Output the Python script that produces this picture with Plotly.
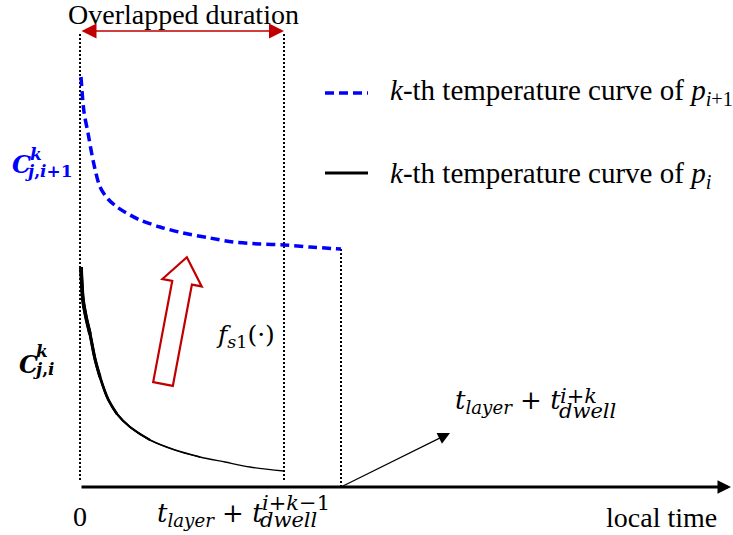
import plotly.graph_objects as go

# ---- data (diagram units: time along x, temperature along y) ----
t_next = [1, 4, 8, 13, 20, 28, 37, 50, 60, 80, 103, 130, 153, 180, 204, 230, 261]
T_next = [410, 375, 354, 327, 300, 288, 280, 272, 267, 260, 254, 249, 245, 243, 242, 240, 238]
t_cur = [1, 3, 6, 10, 15, 20, 28, 37, 50, 70, 95, 120, 145, 170, 204]
T_cur = [220, 187, 170, 153, 128, 110, 88, 73, 60, 47, 37, 30, 25, 20, 16]
t_overlap_end = 204
t_dwell_end = 261
t_axis_end = 651

SERIF = "Liberation Serif"
MATH = "DejaVu Serif"
BLUE = "#0000FF"
RED = "#C00000"

fig = go.Figure()

# vertical dotted guides
def vline(x, y0, y1):
    fig.add_trace(go.Scatter(x=[x, x], y=[y0, y1], mode="lines",
                             line=dict(color="black", width=2, dash="2px,2px"),
                             hoverinfo="skip", showlegend=False))

vline(0, 7, 454)
vline(t_overlap_end, 7, 454)
vline(t_dwell_end, 0, T_next[-1])

# blue dashed curve
fig.add_trace(go.Scatter(x=t_next, y=T_next, mode="lines",
                         line=dict(color=BLUE, width=3.5, dash="9px,5px", shape="spline", smoothing=0.8),
                         hoverinfo="skip", showlegend=False))

# black curve: thin full curve plus progressively thicker overlays near the start
fig.add_trace(go.Scatter(x=t_cur, y=T_cur, mode="lines",
                         line=dict(color="black", width=1.3, shape="spline", smoothing=0.8),
                         hoverinfo="skip", showlegend=False))
for b, w in [(12, 1.7), (10, 2.2), (8, 2.7), (6, 3.2), (4, 3.7)]:
    fig.add_trace(go.Scatter(x=t_cur[:b], y=T_cur[:b], mode="lines",
                             line=dict(color="black", width=w, shape="spline", smoothing=0.8),
                             hoverinfo="skip", showlegend=False))

# legend glyphs
fig.add_trace(go.Scatter(x=[245, 288], y=[394, 394], mode="lines",
                         line=dict(color=BLUE, width=3.5, dash="9px,5px"),
                         hoverinfo="skip", showlegend=False))
fig.add_trace(go.Scatter(x=[245, 288], y=[314, 314], mode="lines",
                         line=dict(color="black", width=3),
                         hoverinfo="skip", showlegend=False))

# hollow red arrow (shape path)
bx, by = 83, 103
ux, uy = 0.185, 0.983
nx, ny = 0.983, -0.185
Ls, Lh, ws, wh = 103, 26, 10, 20
hx, hy = bx + Ls * ux, by + Ls * uy
pts = [
    (bx - ws * nx, by - ws * ny),
    (hx - ws * nx, hy - ws * ny),
    (hx - wh * nx, hy - wh * ny),
    (bx + (Ls + Lh) * ux, by + (Ls + Lh) * uy),
    (hx + wh * nx, hy + wh * ny),
    (hx + ws * nx, hy + ws * ny),
    (bx + ws * nx, by + ws * ny),
]
path = "M " + " L ".join(f"{px:.2f},{py:.2f}" for px, py in pts) + " Z"
fig.add_shape(type="path", path=path, xref="x", yref="y",
              line=dict(color=RED, width=2.2), fillcolor="white")

ann = []
# x axis arrow
ann.append(dict(x=t_axis_end, y=0, ax=0, ay=0, xref="x", yref="y", axref="x", ayref="y",
                text="", showarrow=True, arrowhead=2, arrowsize=0.9, arrowwidth=3, arrowcolor="black"))
# overlapped duration double arrow
ann.append(dict(x=t_overlap_end, y=456, ax=0, ay=456, xref="x", yref="y", axref="x", ayref="y",
                text="", showarrow=True, arrowhead=2, arrowsize=2, arrowwidth=1.5,
                startarrowhead=2, startarrowsize=2, arrowside="end+start", arrowcolor=RED))
# slanted arrow
ann.append(dict(x=370, y=54, ax=t_dwell_end, ay=0, xref="x", yref="y", axref="x", ayref="y",
                text="", showarrow=True, arrowhead=2, arrowsize=2, arrowwidth=1.2, arrowcolor="black"))

def txt(x, y, s, size, color="black", xanchor="center", family=SERIF):
    ann.append(dict(x=x, y=y, xref="x", yref="y", text=s, showarrow=False,
                    xanchor=xanchor, yanchor="middle",
                    font=dict(family=family, size=size, color=color)))

txt(103, 473, "Overlapped duration", 28)
txt(308, 395, "<i>k</i>-th temperature curve of <i>p</i><sub><i>i</i>+1</sub>", 29, xanchor="left")
txt(308, 312, "<i>k</i>-th temperature curve of <i>p</i><sub><i>i</i></sub>", 29, xanchor="left")

# C labels
txt(-59, 323, "<b><i>C</i></b>", 24, BLUE, family=MATH)
txt(-44, 333, "<b><i>k</i></b>", 17, BLUE, family=MATH)
txt(-31, 316, "<b><i>j</i>,<i>i</i>+1</b>", 17, BLUE, family=MATH)
txt(-52, 123, "<b><i>C</i></b>", 24, family=MATH)
txt(-38, 136, "<b><i>k</i></b>", 17, family=MATH)
txt(-36, 118, "<b><i>j</i>,<i>i</i></b>", 17, family=MATH)

txt(165, 151, "<i>f</i><sub><i>s</i>1</sub>(·)", 25, family=MATH)

# t_layer + t_dwell^{i+k}
txt(373, 86, "<i>t</i><sub><i>layer</i></sub> + <i>t</i>", 26, xanchor="left", family=MATH)
txt(478, 91, "<i>i</i>+<i>k</i>", 21, xanchor="left", family=MATH)
txt(477, 76, "<i>dwell</i>", 21, xanchor="left", family=MATH)

# bottom labels
txt(0, -29, "0", 28)
txt(75, -27, "<i>t</i><sub><i>layer</i></sub> + <i>t</i>", 26, xanchor="left", family=MATH)
txt(180, -16, "<i>i</i>+<i>k</i>−1", 21, xanchor="left", family=MATH)
txt(178, -33, "<i>dwell</i>", 21, xanchor="left", family=MATH)
txt(581, -30, "local time", 28)

fig.update_layout(
    width=733, height=535,
    margin=dict(l=0, r=0, t=0, b=0),
    paper_bgcolor="white", plot_bgcolor="white",
    xaxis=dict(range=[-80, 653], visible=False, fixedrange=True),
    yaxis=dict(range=[-48, 487], visible=False, fixedrange=True),
    annotations=ann,
    showlegend=False,
)

fig.write_html("out.html")
